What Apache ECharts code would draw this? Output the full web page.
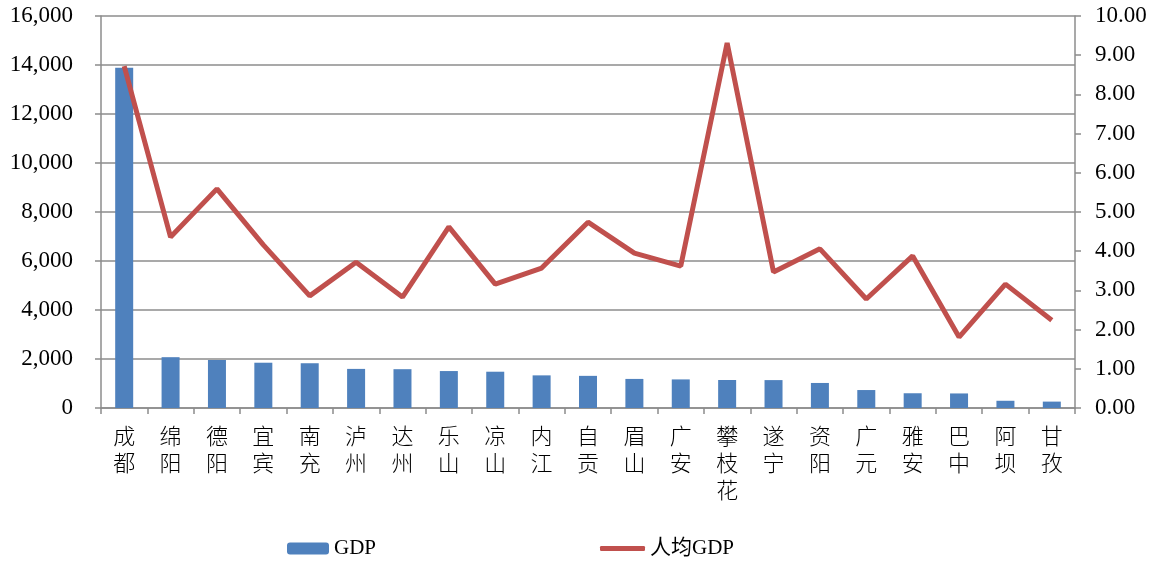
<!DOCTYPE html>
<html><head><meta charset="utf-8">
<script src="https://cdn.jsdelivr.net/npm/echarts@6/dist/echarts.min.js"></script>
<style>html,body{margin:0;padding:0;background:#fff}#c{width:1157px;height:562px}</style>
</head><body><div id="c"></div>
<script>
const categories = ['成都','绵阳','德阳','宜宾','南充','泸州','达州','乐山','凉山','内江','自贡','眉山','广安','攀枝花','遂宁','资阳','广元','雅安','巴中','阿坝','甘孜'];
const gdp = [13889, 2074, 1960, 1848, 1827, 1596, 1584, 1508, 1481, 1332, 1312, 1187, 1167, 1144, 1139, 1022, 733, 602, 594, 295, 261];
const gdpPerCapita = [8.72, 4.36, 5.59, 4.16, 2.86, 3.72, 2.83, 4.62, 3.16, 3.57, 4.74, 3.95, 3.62, 9.31, 3.47, 4.06, 2.78, 3.88, 1.81, 3.16, 2.24];
const leftTicks = {min: 0, max: 16000, interval: 2000};
const rightTicks = {min: 0, max: 10, interval: 1};

const serif = '"Liberation Serif", "Noto Sans CJK SC", serif';
const gridColor = '#8c8c8c';
const chart = echarts.init(document.getElementById('c'));
chart.setOption({
  animation: false,
  textStyle: {fontFamily: serif},
  grid: {left: 101, right: 82, top: 16, bottom: 154},
  legend: [
    {data: ['GDP'], left: 287, top: 538, padding: 0, itemWidth: 42, itemHeight: 12, itemGap: 4,
     textStyle: {fontFamily: serif, fontSize: 21, color: '#000'}},
    {data: [{name: '人均GDP', icon: 'roundRect'}], left: 600, top: 538, padding: 0, itemWidth: 45, itemHeight: 5, itemGap: 3,
     itemStyle: {color: '#C0504D'},
     textStyle: {fontFamily: serif, fontSize: 21, color: '#000'}}
  ],
  xAxis: {
    type: 'category', data: categories, boundaryGap: true,
    axisLine: {lineStyle: {color: gridColor, width: 1.5}},
    axisTick: {show: true, length: 6, lineStyle: {color: gridColor, width: 1.5}},
    axisLabel: {interval: 0, color: '#000', fontSize: 22, lineHeight: 27, margin: 14,
      fontFamily: '"Noto Sans CJK SC", serif', fontWeight: 300,
      formatter: v => v.split('').join('\n')}
  },
  yAxis: [
    {type: 'value', min: leftTicks.min, max: leftTicks.max, interval: leftTicks.interval,
     axisLine: {show: true, lineStyle: {color: gridColor, width: 1.5}},
     axisTick: {show: true, length: 6, lineStyle: {color: gridColor, width: 1.5}},
     splitLine: {lineStyle: {color: gridColor, width: 1.5}},
     axisLabel: {color: '#000', fontSize: 23, margin: 28, fontFamily: serif,
       formatter: v => v.toLocaleString('en-US')}},
    {type: 'value', min: rightTicks.min, max: rightTicks.max, interval: rightTicks.interval,
     axisLine: {show: true, lineStyle: {color: gridColor, width: 1.5}},
     axisTick: {show: true, length: 6, lineStyle: {color: gridColor, width: 1.5}},
     splitLine: {show: false},
     axisLabel: {color: '#000', fontSize: 23, margin: 20, fontFamily: serif,
       formatter: v => v.toFixed(2)}}
  ],
  series: [
    {name: 'GDP', type: 'bar', data: gdp, barWidth: 18, itemStyle: {color: '#4F81BD'}},
    {name: '人均GDP', type: 'line', yAxisIndex: 1, data: gdpPerCapita, symbol: 'none',
     lineStyle: {color: '#C0504D', width: 5}, itemStyle: {color: '#C0504D'}}
  ]
});
</script></body></html>
